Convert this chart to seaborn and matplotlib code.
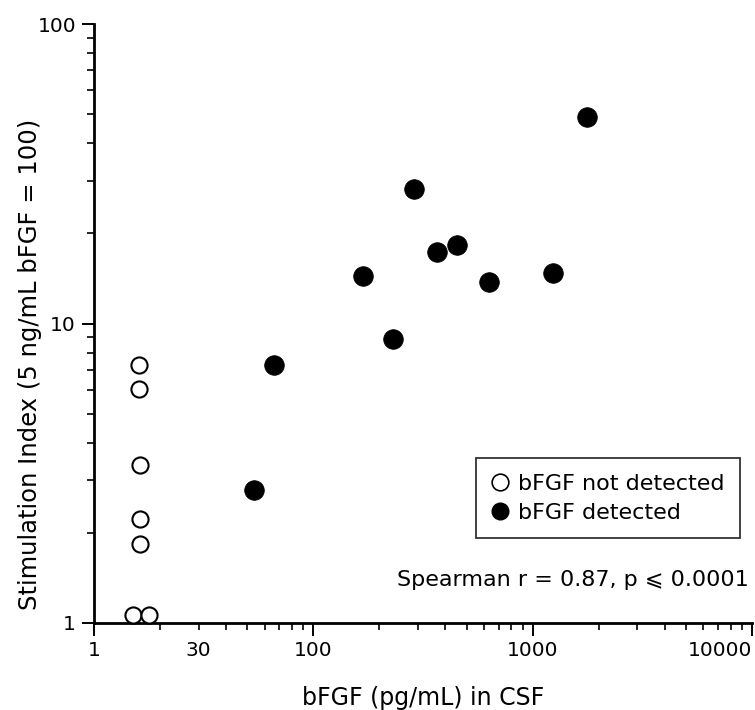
import matplotlib
matplotlib.use("Agg")
import matplotlib.pyplot as plt
import seaborn as sns
import pandas as pd
from matplotlib.lines import Line2D

# ---- data (x in plotted log units, left axis end labelled "1") ----
nd_x = [16.0, 16.0, 16.2, 16.2, 16.2, 15.0, 17.8]
nd_y = [7.26, 6.05, 3.37, 2.22, 1.83, 1.06, 1.06]

det_x = [53.7, 65.9, 169, 232, 288, 366, 454, 635, 1242, 1770]
det_y = [2.78, 7.26, 14.4, 8.87, 28.1, 17.3, 18.3, 13.8, 14.8, 48.9]

x_major = [10, 100, 1000, 10000]
x_major_labels = ["1", "100", "1000", "10000"]
x_minor = [20, 30, 40, 50, 60, 70, 80, 90,
           200, 300, 400, 500, 600, 700, 800, 900,
           2000, 3000, 4000, 5000, 6000, 7000, 8000, 9000]
x_minor_labels = ["", "30"] + [""] * 22

y_major = [1, 10, 100]
y_major_labels = ["1", "10", "100"]
y_minor = [2, 3, 4, 5, 6, 7, 8, 9, 20, 30, 40, 50, 60, 70, 80, 90]

legend_labels = ["bFGF not detected", "bFGF detected"]
x_label = "bFGF (pg/mL) in CSF"
y_label = "Stimulation Index (5 ng/mL bFGF = 100)"
stat_text = "Spearman r = 0.87, p \u2a7d 0.0001"

df_nd = pd.DataFrame({"x": nd_x, "y": nd_y})
df_det = pd.DataFrame({"x": det_x, "y": det_y})

sns.set_theme(style="ticks")
plt.rcParams["font.family"] = ["DejaVu Sans"]
plt.rcParams["text.color"] = "black"

fig = plt.figure(figsize=(7.55, 7.10), dpi=100)
ax = fig.add_axes([94 / 755, 87 / 710, (752 - 94) / 755, (623 - 24) / 710])

ax.set_xscale("log")
ax.set_yscale("log")

sns.scatterplot(data=df_nd, x="x", y="y", ax=ax, marker="o", s=135,
                facecolor="white", edgecolor="black", linewidth=1.5,
                zorder=3, clip_on=False)
sns.scatterplot(data=df_det, x="x", y="y", ax=ax, marker="o", s=200,
                color="black", edgecolor="black", linewidth=0.5,
                zorder=3, clip_on=False)

ax.set_xlim(10, 10000)
ax.set_ylim(1, 100)

ax.set_xticks(x_major, labels=x_major_labels)
ax.set_xticks(x_minor, labels=x_minor_labels, minor=True)
ax.set_yticks(y_major, labels=y_major_labels)
ax.set_yticks(y_minor, labels=[""] * len(y_minor), minor=True)

for side in ["top", "right"]:
    ax.spines[side].set_visible(False)
for side in ["left", "bottom"]:
    ax.spines[side].set_linewidth(2.0)
    ax.spines[side].set_color("black")

ax.tick_params(which="major", length=9, width=1.4, color="black",
               labelsize=14.5, labelcolor="black", pad=4, direction="out")
ax.tick_params(which="minor", length=5, width=1.2, color="black",
               labelsize=14.5, labelcolor="black", pad=8, direction="out")

# last x tick label sits flush with the axis end
ax.get_xticklabels()[-1].set_horizontalalignment("right")

ax.set_xlabel(x_label, fontsize=17, color="black", labelpad=19)
ax.set_ylabel(y_label, fontsize=17.5, color="black")
ax.yaxis.set_label_coords(-0.079, 0.432)

handles = [
    Line2D([], [], marker="o", linestyle="none", markersize=12,
           markerfacecolor="white", markeredgecolor="black", markeredgewidth=1.2),
    Line2D([], [], marker="o", linestyle="none", markersize=12,
           markerfacecolor="black", markeredgecolor="black"),
]
leg = ax.legend(handles, legend_labels, loc="upper right",
                bbox_to_anchor=(0.982, 0.275), frameon=True, fancybox=False,
                fontsize=16, handlelength=0.8, handletextpad=0.4,
                borderpad=0.7, labelspacing=0.4, borderaxespad=0)
leg.get_frame().set_edgecolor("black")
leg.get_frame().set_linewidth(1.3)
for t in leg.get_texts():
    t.set_color("black")

ax.text(0.995, 0.072, stat_text, transform=ax.transAxes, ha="right",
        va="center", fontsize=16, color="black")

fig.savefig("out.png", dpi=100, facecolor="white")
